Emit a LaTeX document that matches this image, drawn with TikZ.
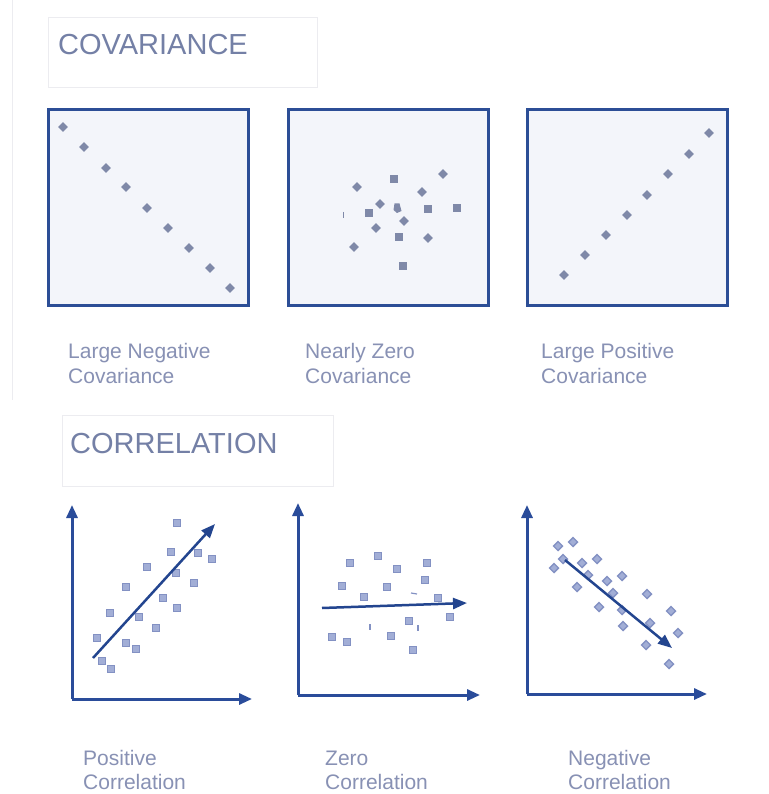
\documentclass[tikz,border=0pt]{standalone}
\usepackage{fontspec}
\setmainfont{Liberation Sans}
\usetikzlibrary{arrows.meta}
\definecolor{boxblue}{HTML}{2C4E96}
\definecolor{boxfill}{HTML}{F3F5FA}
\definecolor{ptcol}{HTML}{7F89A8}
\definecolor{axblue}{HTML}{2A4C9A}
\definecolor{trendblue}{HTML}{23458F}
\definecolor{sqfill}{HTML}{A2AED6}
\definecolor{sqdraw}{HTML}{8391C3}
\definecolor{titlecol}{HTML}{7480A6}
\definecolor{labelcol}{HTML}{8891B4}
\definecolor{faint}{HTML}{ECECF0}
\newcommand\mkdia[2]{\fill[ptcol] (#1,#2) +(-4.8,0) -- +(0,-4.8) -- +(4.8,0) -- +(0,4.8) -- cycle;}
\newcommand\mksq[2]{\fill[ptcol] (#1,#2) +(-3.6,-3.6) rectangle +(3.6,3.6);}
\newcommand\mkcsq[2]{\filldraw[fill=sqfill,draw=sqdraw,line width=1.4pt] (#1,#2) +(-3.3,-3.3) rectangle +(3.3,3.3);}
\newcommand\mkcdi[2]{\filldraw[fill=sqfill,draw=sqdraw,line width=1.4pt] (#1,#2) +(-4.5,0) -- +(0,-4.5) -- +(4.5,0) -- +(0,4.5) -- cycle;}
\begin{document}
\begin{tikzpicture}[x=1pt,y=-1pt,
  covbox/.style={draw=boxblue, line width=3pt, fill=boxfill, minimum width=200pt, minimum height=196pt, inner sep=0pt},
  titlebox/.style={draw=faint, fill=white, line width=1pt, inner sep=0pt},
  title/.style={text=titlecol, font=\fontsize{29}{34}\selectfont, anchor=base west, inner sep=0pt},
  lbl/.style={text=labelcol, font=\fontsize{21}{25}\selectfont, anchor=base west, inner sep=0pt},
  axis/.style={draw=axblue, line width=3pt, -{Triangle[length=13pt,width=11pt]}},
  trend/.style={draw=trendblue, line width=2.5pt, -{Triangle[length=14pt,width=11pt]}},
  tick/.style={draw=sqdraw, line width=1.2pt}]
\useasboundingbox (0,0) rectangle (768,794);
\fill[white] (0,0) rectangle (768,794);
\draw[faint, line width=1pt] (12,0) -- (12,400);

% ---------- COVARIANCE ----------
\node[titlebox, minimum width=269pt, minimum height=70pt] (covtbox) at (182.5,53) {};
\node[title] (covt) at (58,55) {COVARIANCE};

\node[covbox] (cb1) at (148.5,207.5) {};
\node[covbox] (cb2) at (388.5,207.5) {};
\node[covbox] (cb3) at (627.5,207.5) {};

\foreach \x/\y in {63/127,84/147,106/168,126/187,147/208,168/228,189/248,210/268,230/288}
  {\mkdia{\x}{\y}}
\foreach \x/\y in {564/275,585/255,606/235,627/215,647/195,668/174,689/154,709/133}
  {\mkdia{\x}{\y}}
\foreach \x/\y in {357/187,443/174,422/192,380/204,404/221,376/228,428/238,354/247}
  {\mkdia{\x}{\y}}
\foreach \x/\y in {394/179,369/213,428/209,457/208,399/237,403/266}
  {\mksq{\x}{\y}}
\fill[ptcol] (397,208) +(-2.5,-4.5) -- +(2.5,-4.5) -- +(4.5,3) -- +(0,5) -- +(-3.5,2) -- cycle;
\draw[ptcol, line width=1pt] (343,212) -- (343,218);

\node[lbl] (l1a) at (68,358) {Large Negative};
\node[lbl] (l1b) at (68,383) {Covariance};
\node[lbl] (l2a) at (305,358) {Nearly Zero};
\node[lbl] (l2b) at (305,383) {Covariance};
\node[lbl] (l3a) at (541,358) {Large Positive};
\node[lbl] (l3b) at (541,383) {Covariance};

% ---------- CORRELATION ----------
\node[titlebox, minimum width=271pt, minimum height=71pt] (cortbox) at (197.5,450.5) {};
\node[title] (cort) at (70,453) {CORRELATION};

% plot 1
\coordinate (o1) at (72,699);
\coordinate (y1) at (72,505);
\coordinate (x1) at (252,699);
\draw[axis] (o1) -- (y1);
\draw[axis] (o1) -- (x1);
\foreach \x/\y in {177/523,171/552,198/553,212/559,147/567,176/573,126/587,194/583,163/598,177/608,110/613,139/617,156/628,97/638,126/643,136/649,102/661,111/669}
  {\mkcsq{\x}{\y}}
\coordinate (t1s) at (93,658);
\coordinate (t1e) at (215,524);
\draw[trend] (t1s) -- (t1e);

% plot 2
\coordinate (o2) at (298,695);
\coordinate (y2) at (298,503);
\coordinate (x2) at (480,695);
\draw[axis] (o2) -- (y2);
\draw[axis] (o2) -- (x2);
\foreach \x/\y in {350/563,378/556,397/569,427/563,342/586,387/587,425/580,364/597,438/598,450/617,409/621,332/637,347/642,391/636,413/650}
  {\mkcsq{\x}{\y}}
\draw[tick] (411,593) -- (417,594);
\draw[tick] (418,625) -- (418,631);
\draw[tick] (370,624) -- (370,630);
\coordinate (t2s) at (322,608);
\coordinate (t2e) at (467,603);
\draw[trend] (t2s) -- (t2e);

% plot 3
\coordinate (o3) at (527,694);
\coordinate (y3) at (527,505);
\coordinate (x3) at (707,694);
\draw[axis] (o3) -- (y3);
\draw[axis] (o3) -- (x3);
\foreach \x/\y in {558/546,573/542,563/559,554/568,582/563,597/559,588/575,607/581,622/576,577/587,613/593,647/594,599/607,622/610,671/611,650/623,623/626,678/633,646/645,669/664}
  {\mkcdi{\x}{\y}}
\coordinate (t3s) at (565,560);
\coordinate (t3e) at (672,648);
\draw[trend] (t3s) -- (t3e);

\node[lbl] (m1a) at (83,765) {Positive};
\node[lbl] (m1b) at (83,789) {Correlation};
\node[lbl] (m2a) at (325,765) {Zero};
\node[lbl] (m2b) at (325,789) {Correlation};
\node[lbl] (m3a) at (568,765) {Negative};
\node[lbl] (m3b) at (568,789) {Correlation};
\end{tikzpicture}
\end{document}
